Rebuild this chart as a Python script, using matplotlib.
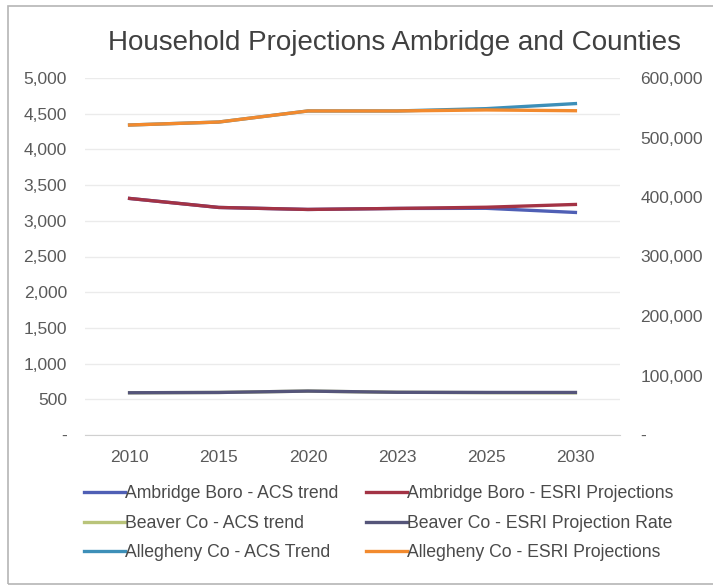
import matplotlib
matplotlib.use("Agg")
import matplotlib.pyplot as plt
from matplotlib.ticker import FuncFormatter, MultipleLocator
from matplotlib.patches import Rectangle

plt.rcParams['font.family'] = ['Liberation Sans', 'DejaVu Sans']

years = ["2010", "2015", "2020", "2023", "2025", "2030"]

# Ambridge Borough households (left axis)
ambridge_acs = [3313, 3187, 3159, 3173, 3175, 3117]
ambridge_esri = [3313, 3187, 3159, 3173, 3190, 3229]

# County households (right axis)
beaver_acs = [71000, 71500, 73800, 71800, 71200, 70900]
beaver_esri = [71000, 71500, 73800, 71800, 71500, 71500]
allegheny_acs = [521000, 526000, 544600, 544600, 548500, 557000]
allegheny_esri = [521000, 526000, 544600, 544600, 546300, 545000]

labels = {
    "amb_acs": "Ambridge Boro - ACS trend",
    "amb_esri": "Ambridge Boro - ESRI Projections",
    "bea_acs": "Beaver Co - ACS trend",
    "bea_esri": "Beaver Co - ESRI Projection Rate",
    "all_acs": "Allegheny Co - ACS Trend",
    "all_esri": "Allegheny Co - ESRI Projections",
}
colors = {
    "amb_acs": "#4f5fb5",
    "amb_esri": "#a33345",
    "bea_acs": "#b9c47a",
    "bea_esri": "#55557a",
    "all_acs": "#3d8fb8",
    "all_esri": "#f28a2e",
}

W, H = 713, 588
fig = plt.figure(figsize=(W / 100, H / 100), dpi=100)
fig.patch.set_facecolor("white")

# outer chart frame
fig.patches.append(Rectangle((8 / W, 4 / H), 1.2, 1 - 10 / H, transform=fig.transFigure,
                             fill=False, edgecolor="#b5b5b5", linewidth=1.2, zorder=0))

ax = fig.add_axes([85 / W, (H - 435) / H, 535 / W, 357 / H])
ax2 = ax.twinx()

x = list(range(len(years)))
lw = 2.4
l_amb_acs, = ax.plot(x, ambridge_acs, color=colors["amb_acs"], lw=lw, label=labels["amb_acs"], zorder=3)
l_amb_esri, = ax.plot(x, ambridge_esri, color=colors["amb_esri"], lw=lw, label=labels["amb_esri"], zorder=4)
l_bea_acs, = ax2.plot(x, beaver_acs, color=colors["bea_acs"], lw=lw, label=labels["bea_acs"], zorder=3)
l_bea_esri, = ax2.plot(x, beaver_esri, color=colors["bea_esri"], lw=lw, label=labels["bea_esri"], zorder=4)
l_all_acs, = ax2.plot(x, allegheny_acs, color=colors["all_acs"], lw=lw, label=labels["all_acs"], zorder=3)
l_all_esri, = ax2.plot(x, allegheny_esri, color=colors["all_esri"], lw=lw, label=labels["all_esri"], zorder=4)

ax.set_xlim(-0.5, len(years) - 0.5)
ax.set_ylim(0, 5000)
ax2.set_ylim(0, 600000)
ax.yaxis.set_major_locator(MultipleLocator(500))
ax2.yaxis.set_major_locator(MultipleLocator(100000))


def acct(v, pos):
    return "-" if abs(v) < 1e-9 else f"{v:,.0f}"


ax.yaxis.set_major_formatter(FuncFormatter(acct))
ax2.yaxis.set_major_formatter(FuncFormatter(acct))
ax.set_xticks(x)
ax.set_xticklabels(years)

tick_color = "#5a5a5a"
for a in (ax, ax2):
    for s in a.spines.values():
        s.set_visible(False)
    a.tick_params(length=0, labelsize=12.5, colors=tick_color)
ax.tick_params(axis="y", pad=13)
ax2.tick_params(axis="y", pad=14.5)
ax.tick_params(axis="x", pad=11)
ax.spines["bottom"].set_visible(True)
ax.spines["bottom"].set_color("#d0d0d0")
ax.grid(axis="y", color="#ebebeb", linewidth=1)
ax.set_axisbelow(True)

fig.text(395 / W, 1 - 43 / H, "Household Projections Ambridge and Counties",
         ha="center", va="center", fontsize=20, color="#404040")

handles = [l_amb_acs, l_bea_acs, l_all_acs, l_amb_esri, l_bea_esri, l_all_esri]
fig.legend(handles, [h.get_label() for h in handles], ncol=2, loc="upper left",
           bbox_to_anchor=(84 / W, 1 - 485 / H), frameon=False, fontsize=12.7,
           handlelength=2.3, handletextpad=0.0, columnspacing=1.6,
           labelspacing=0.72, borderpad=0, borderaxespad=0,
           labelcolor="#4a4a4a")

fig.savefig("out.png", dpi=100, facecolor="white")
